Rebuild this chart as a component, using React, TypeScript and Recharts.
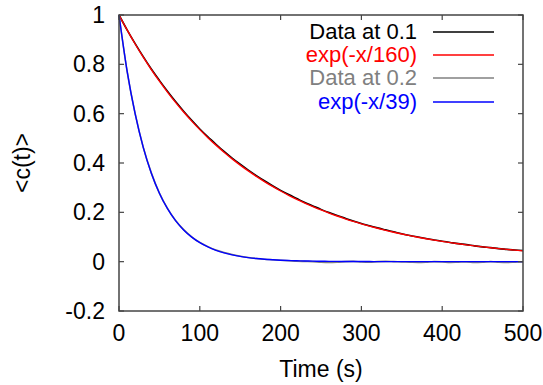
import React from "react";
import { LineChart, Line, XAxis, YAxis } from "recharts";

// time axis (s), sampled every 10 s
const times = [
  0, 10, 20, 30, 40, 50, 60, 70, 80, 90, 100, 110, 120, 130, 140, 150, 160, 170, 180, 190, 200,
  210, 220, 230, 240, 250, 260, 270, 280, 290, 300, 310, 320, 330, 340, 350, 360, 370, 380, 390,
  400, 410, 420, 430, 440, 450, 460, 470, 480, 490, 500,
];

const data01 = [
  1.0, 0.94, 0.884, 0.831, 0.781, 0.735, 0.691, 0.649, 0.61, 0.573, 0.538, 0.506, 0.476, 0.447,
  0.42, 0.395, 0.371, 0.349, 0.328, 0.308, 0.289, 0.272, 0.256, 0.24, 0.226, 0.212, 0.199, 0.187,
  0.176, 0.165, 0.155, 0.146, 0.137, 0.129, 0.121, 0.113, 0.106, 0.1, 0.094, 0.088, 0.083, 0.078,
  0.073, 0.069, 0.064, 0.06, 0.057, 0.053, 0.05, 0.047, 0.045,
];

const fit160 = [
  1.0, 0.9394, 0.8825, 0.829, 0.7788, 0.7316, 0.6873, 0.6456, 0.6065, 0.5698, 0.5353, 0.5028,
  0.4724, 0.4437, 0.4169, 0.3916, 0.3679, 0.3456, 0.3247, 0.305, 0.2865, 0.2691, 0.2528, 0.2375,
  0.2231, 0.2096, 0.1969, 0.185, 0.1738, 0.1632, 0.1534, 0.1441, 0.1353, 0.1271, 0.1194, 0.1122,
  0.1054, 0.099, 0.093, 0.0874, 0.0821, 0.0771, 0.0724, 0.068, 0.0639, 0.0601, 0.0564, 0.053,
  0.0498, 0.0468, 0.0439,
];

const data02 = [
  1.0, 0.772, 0.6, 0.464, 0.36, 0.278, 0.216, 0.167, 0.13, 0.101, 0.078, 0.061, 0.047, 0.037,
  0.029, 0.022, 0.017, 0.013, 0.01, 0.008, 0.006, 0.004, 0.002, 0.001, 0.0, -0.002, -0.003,
  -0.002, 0.0, 0.001, -0.001, -0.002, 0.0, 0.001, 0.0, -0.001, -0.002, -0.003, -0.002, 0.0,
  -0.001, -0.003, -0.002, -0.001, -0.003, -0.002, 0.0, -0.002, -0.003, -0.002, -0.001,
];

const fit39 = [
  1.0, 0.7738, 0.5988, 0.4634, 0.3586, 0.2775, 0.2147, 0.1661, 0.1286, 0.0995, 0.077, 0.0596,
  0.0461, 0.0357, 0.0276, 0.0214, 0.0165, 0.0128, 0.0099, 0.0077, 0.0059, 0.0046, 0.0036, 0.0027,
  0.0021, 0.0016, 0.0013, 0.001, 0.0008, 0.0006, 0.0005, 0.0004, 0.0003, 0.0002, 0.0002, 0.0001,
  0.0001, 0, 0, 0, 0, 0, 0, 0, 0, 0, 0, 0, 0, 0, 0,
];

const xTicks = [0, 100, 200, 300, 400, 500];
const yTicks = [-0.2, 0, 0.2, 0.4, 0.6, 0.8, 1];

const series = [
  { key: "d1", name: "Data at 0.1", color: "#000000" },
  { key: "f1", name: "exp(-x/160)", color: "#ff0000" },
  { key: "d2", name: "Data at 0.2", color: "#808080" },
  { key: "f2", name: "exp(-x/39)", color: "#0000ff" },
];

const rows = times.map((t, i) => ({
  t,
  d1: data01[i],
  f1: fit160[i],
  d2: data02[i],
  f2: fit39[i],
}));

const FONT = "'Liberation Sans', Arial, sans-serif";
const FRAME = "#444444";

// plot box (matches the chart margins / axis sizes below)
const W = 543;
const H = 385;
const M = { top: 15, right: 20, bottom: 0, left: 0 };
const Y_AXIS_W = 119;
const X_AXIS_H = 74;
const PL = M.left + Y_AXIS_W;
const PR = W - M.right;
const PT = M.top;
const PB = H - M.bottom - X_AXIS_H;
const X_DOM = [0, 500];
const Y_DOM = [-0.2, 1];
const sx = (t: number) => PL + ((t - X_DOM[0]) / (X_DOM[1] - X_DOM[0])) * (PR - PL);
const sy = (v: number) => PB - ((v - Y_DOM[0]) / (Y_DOM[1] - Y_DOM[0])) * (PB - PT);

const BottomTick = (p: any) => (
  <text x={p.x} y={p.y + 22} textAnchor="middle" dominantBaseline="central"
    fontFamily={FONT} fontSize={23} fill="#000">
    {p.payload.value}
  </text>
);

const LeftTick = (p: any) => (
  <text x={p.x - 14} y={p.y} textAnchor="end" dominantBaseline="central"
    fontFamily={FONT} fontSize={23} fill="#000">
    {Math.round(p.payload.value * 10) / 10}
  </text>
);

// gnuplot-style border with inward ticks on all four sides
const Frame = () => (
  <svg width={W} height={H} style={{ position: "absolute", left: 0, top: 0, pointerEvents: "none" }}>
    <rect x={PL} y={PT} width={PR - PL} height={PB - PT} fill="none" stroke={FRAME} strokeWidth={1.5} />
    {xTicks.map((t) => (
      <g key={"x" + t}>
        <line x1={sx(t)} y1={PB} x2={sx(t)} y2={PB - 5} stroke={FRAME} strokeWidth={1.2} />
        <line x1={sx(t)} y1={PT} x2={sx(t)} y2={PT + 5} stroke={FRAME} strokeWidth={1.2} />
      </g>
    ))}
    {yTicks.map((v) => (
      <g key={"y" + v}>
        <line x1={PL} y1={sy(v)} x2={PL + 5} y2={sy(v)} stroke={FRAME} strokeWidth={1.2} />
        <line x1={PR} y1={sy(v)} x2={PR - 5} y2={sy(v)} stroke={FRAME} strokeWidth={1.2} />
      </g>
    ))}
  </svg>
);

const LegendBox = () => (
  <div style={{ position: "absolute", left: 200, top: 20, fontFamily: FONT, fontSize: 22 }}>
    {series.map((s) => (
      <div key={s.key} style={{ display: "flex", alignItems: "center", height: 23.3 }}>
        <span style={{ width: 217, textAlign: "right", color: s.color, lineHeight: "22px", whiteSpace: "nowrap" }}>
          {s.name}
        </span>
        <span style={{ width: 16, flexShrink: 0 }} />
        <svg width={61} height={4} style={{ flexShrink: 0 }}>
          <line x1={0} y1={2} x2={61} y2={2} stroke={s.color} strokeWidth={1.5} />
        </svg>
      </div>
    ))}
  </div>
);

export default function App() {
  return (
    <div style={{ position: "absolute", left: 0, top: 0, width: W, height: H, background: "#fff" }}>
      <LineChart width={W} height={H} data={rows} margin={M}>
        <XAxis dataKey="t" type="number" domain={X_DOM} ticks={xTicks}
          height={X_AXIS_H} tickSize={0} tickMargin={0} tickLine={false} tick={BottomTick}
          axisLine={false}
          label={(props: any) => {
            const vb = props.viewBox;
            return (
              <text x={vb.x + vb.width / 2} y={vb.y + 58} textAnchor="middle"
                dominantBaseline="central" fontFamily={FONT} fontSize={23} fill="#000">
                Time (s)
              </text>
            );
          }} />
        <YAxis type="number" domain={Y_DOM} ticks={yTicks} width={Y_AXIS_W}
          tickSize={0} tickMargin={0} tickLine={false} tick={LeftTick}
          axisLine={false}
          label={(props: any) => {
            const vb = props.viewBox;
            const cx = 22;
            const cy = vb.y + vb.height / 2;
            return (
              <text x={cx} y={cy} textAnchor="middle" dominantBaseline="central"
                transform={`rotate(-90 ${cx} ${cy})`} fontFamily={FONT} fontSize={23} fill="#000">
                {"<c(t)>"}
              </text>
            );
          }} />
        {series.map((s) => (
          <Line key={s.key} type="monotone" dataKey={s.key} name={s.name}
            stroke={s.color} strokeWidth={s.key.startsWith("d") ? 1.6 : 1.4} dot={false}
            isAnimationActive={false} />
        ))}
      </LineChart>
      <Frame />
      <LegendBox />
    </div>
  );
}
